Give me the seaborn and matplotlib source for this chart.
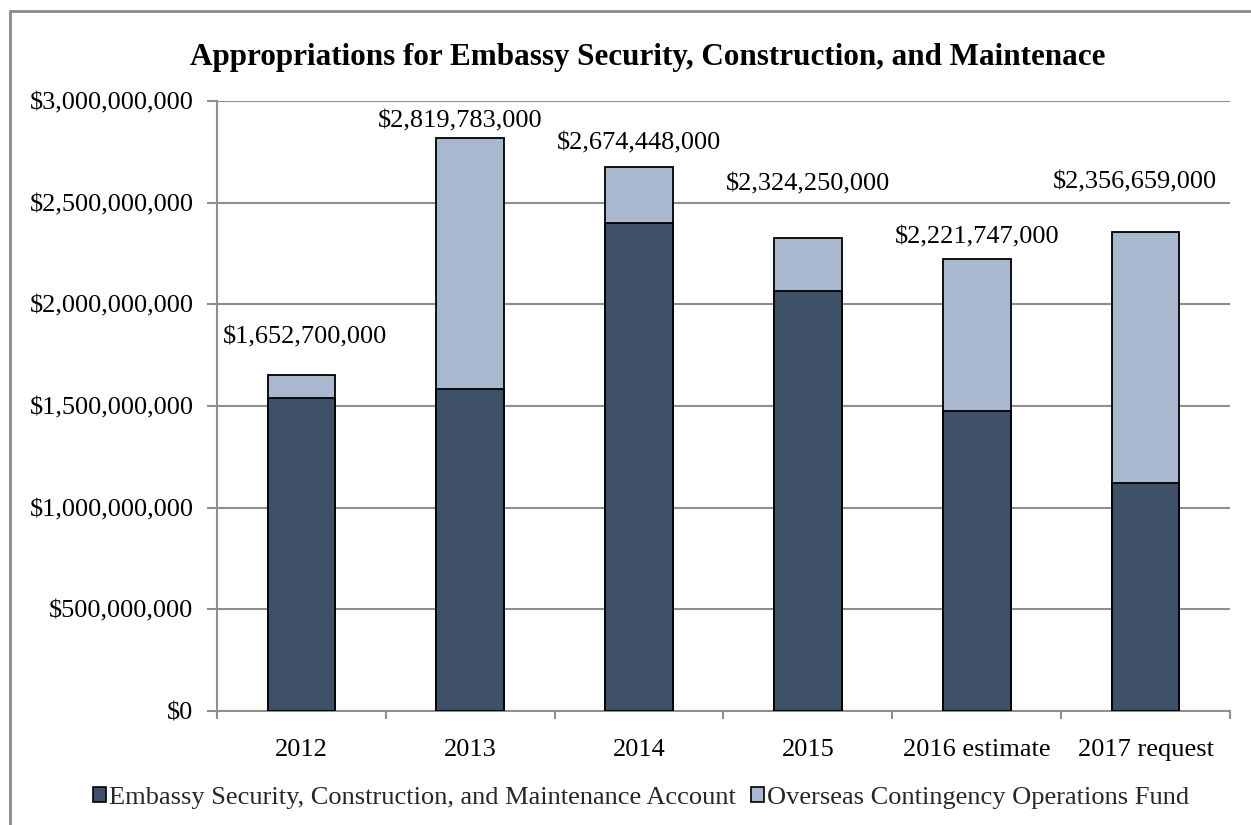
import matplotlib
matplotlib.use("Agg")
import matplotlib.pyplot as plt
import seaborn as sns
import pandas as pd
from matplotlib.lines import Line2D
from matplotlib.patches import Patch
from matplotlib.ticker import FuncFormatter, MultipleLocator, FixedLocator

# ---- data ----
years = ["2012", "2013", "2014", "2015", "2016 estimate", "2017 request"]
escm = [1540000000, 1581783000, 2399448000, 2064250000, 1476747000, 1120659000]
oco = [112700000, 1238000000, 275000000, 260000000, 745000000, 1236000000]
series_names = ["Embassy Security, Construction, and Maintenance Account",
                "Overseas Contingency Operations Fund"]
title = "Appropriations for Embassy Security, Construction, and Maintenace"

totals = [a + b for a, b in zip(escm, oco)]
df = pd.DataFrame({"year": years, "escm": escm, "total": totals})

# label offsets (pixels) for the total labels
label_dx = [4, -10, 0, 0, 0, -11]
label_dy = [38, 16, 24, 54, 22, 49]

dark = "#3F5169"
light = "#A9B8CE"
grid_c = "#8E8E8E"
fs = 19

sns.set_theme(style="white")
plt.rcParams["font.family"] = ["Liberation Serif", "DejaVu Serif"]

fig = plt.figure(figsize=(12.51, 8.25), dpi=100)
ax = fig.add_axes([217 / 1251, 1 - 711 / 825, (1230 - 217) / 1251, (711 - 101) / 825])

sns.barplot(data=df, x="year", y="total", color=light, edgecolor="black",
            linewidth=1.3, width=0.4, saturation=1, ax=ax, zorder=3)
sns.barplot(data=df, x="year", y="escm", color=dark, edgecolor="black",
            linewidth=1.3, width=0.4, saturation=1, ax=ax, zorder=4)

ax.set_ylim(0, 3000000000)
ax.set_xlim(-0.5, len(years) - 0.5)
ax.yaxis.set_major_locator(MultipleLocator(500000000))
ax.yaxis.set_major_formatter(FuncFormatter(lambda v, p: "${:,.0f}".format(v)))
ax.grid(axis="y", color=grid_c, linewidth=1.5, zorder=0)
ax.set_axisbelow(True)
ax.set_xlabel("")
ax.set_ylabel("")

for s in ["top", "right"]:
    ax.spines[s].set_visible(False)
for s in ["left", "bottom"]:
    ax.spines[s].set_color(grid_c)
    ax.spines[s].set_linewidth(1.5)

ax.tick_params(axis="y", which="major", left=True, length=7, width=1.5,
               color=grid_c, labelsize=fs, pad=10, labelcolor="black")
ax.tick_params(axis="x", which="major", bottom=False, labelsize=fs, pad=14,
               labelcolor="black")
ax.xaxis.set_minor_locator(FixedLocator([i - 0.5 for i in range(len(years) + 1)]))
ax.tick_params(axis="x", which="minor", bottom=True, length=6, width=1.5,
               color=grid_c)

for i, t in enumerate(totals):
    ax.annotate("${:,.0f}".format(t), xy=(i, t), xytext=(label_dx[i], label_dy[i]),
                textcoords="offset pixels", ha="center", va="center",
                fontsize=fs, color="black", zorder=5)

fig.text(648 / 1251, 1 - 57 / 825, title, ha="center", va="center",
         fontsize=22.4, fontweight="bold", color="black")

handles = [Patch(facecolor=dark, edgecolor="black", linewidth=1.2),
           Patch(facecolor=light, edgecolor="black", linewidth=1.2)]
fig.legend(handles, series_names, loc="center", bbox_to_anchor=(641 / 1251, 1 - 798 / 825),
           ncol=2, frameon=False, fontsize=fs, handlelength=0.48, handleheight=0.48,
           handletextpad=0.1, columnspacing=0.6, borderaxespad=0)

# outer chart border (left and top visible)
fig.add_artist(Line2D([10 / 1251, 10 / 1251], [-0.05, 1 - 11 / 825],
                      transform=fig.transFigure, color="#8A8A8A", linewidth=2))
fig.add_artist(Line2D([10 / 1251, 1.05], [1 - 11 / 825, 1 - 11 / 825],
                      transform=fig.transFigure, color="#8A8A8A", linewidth=2))

fig.savefig("out.png", dpi=100)
